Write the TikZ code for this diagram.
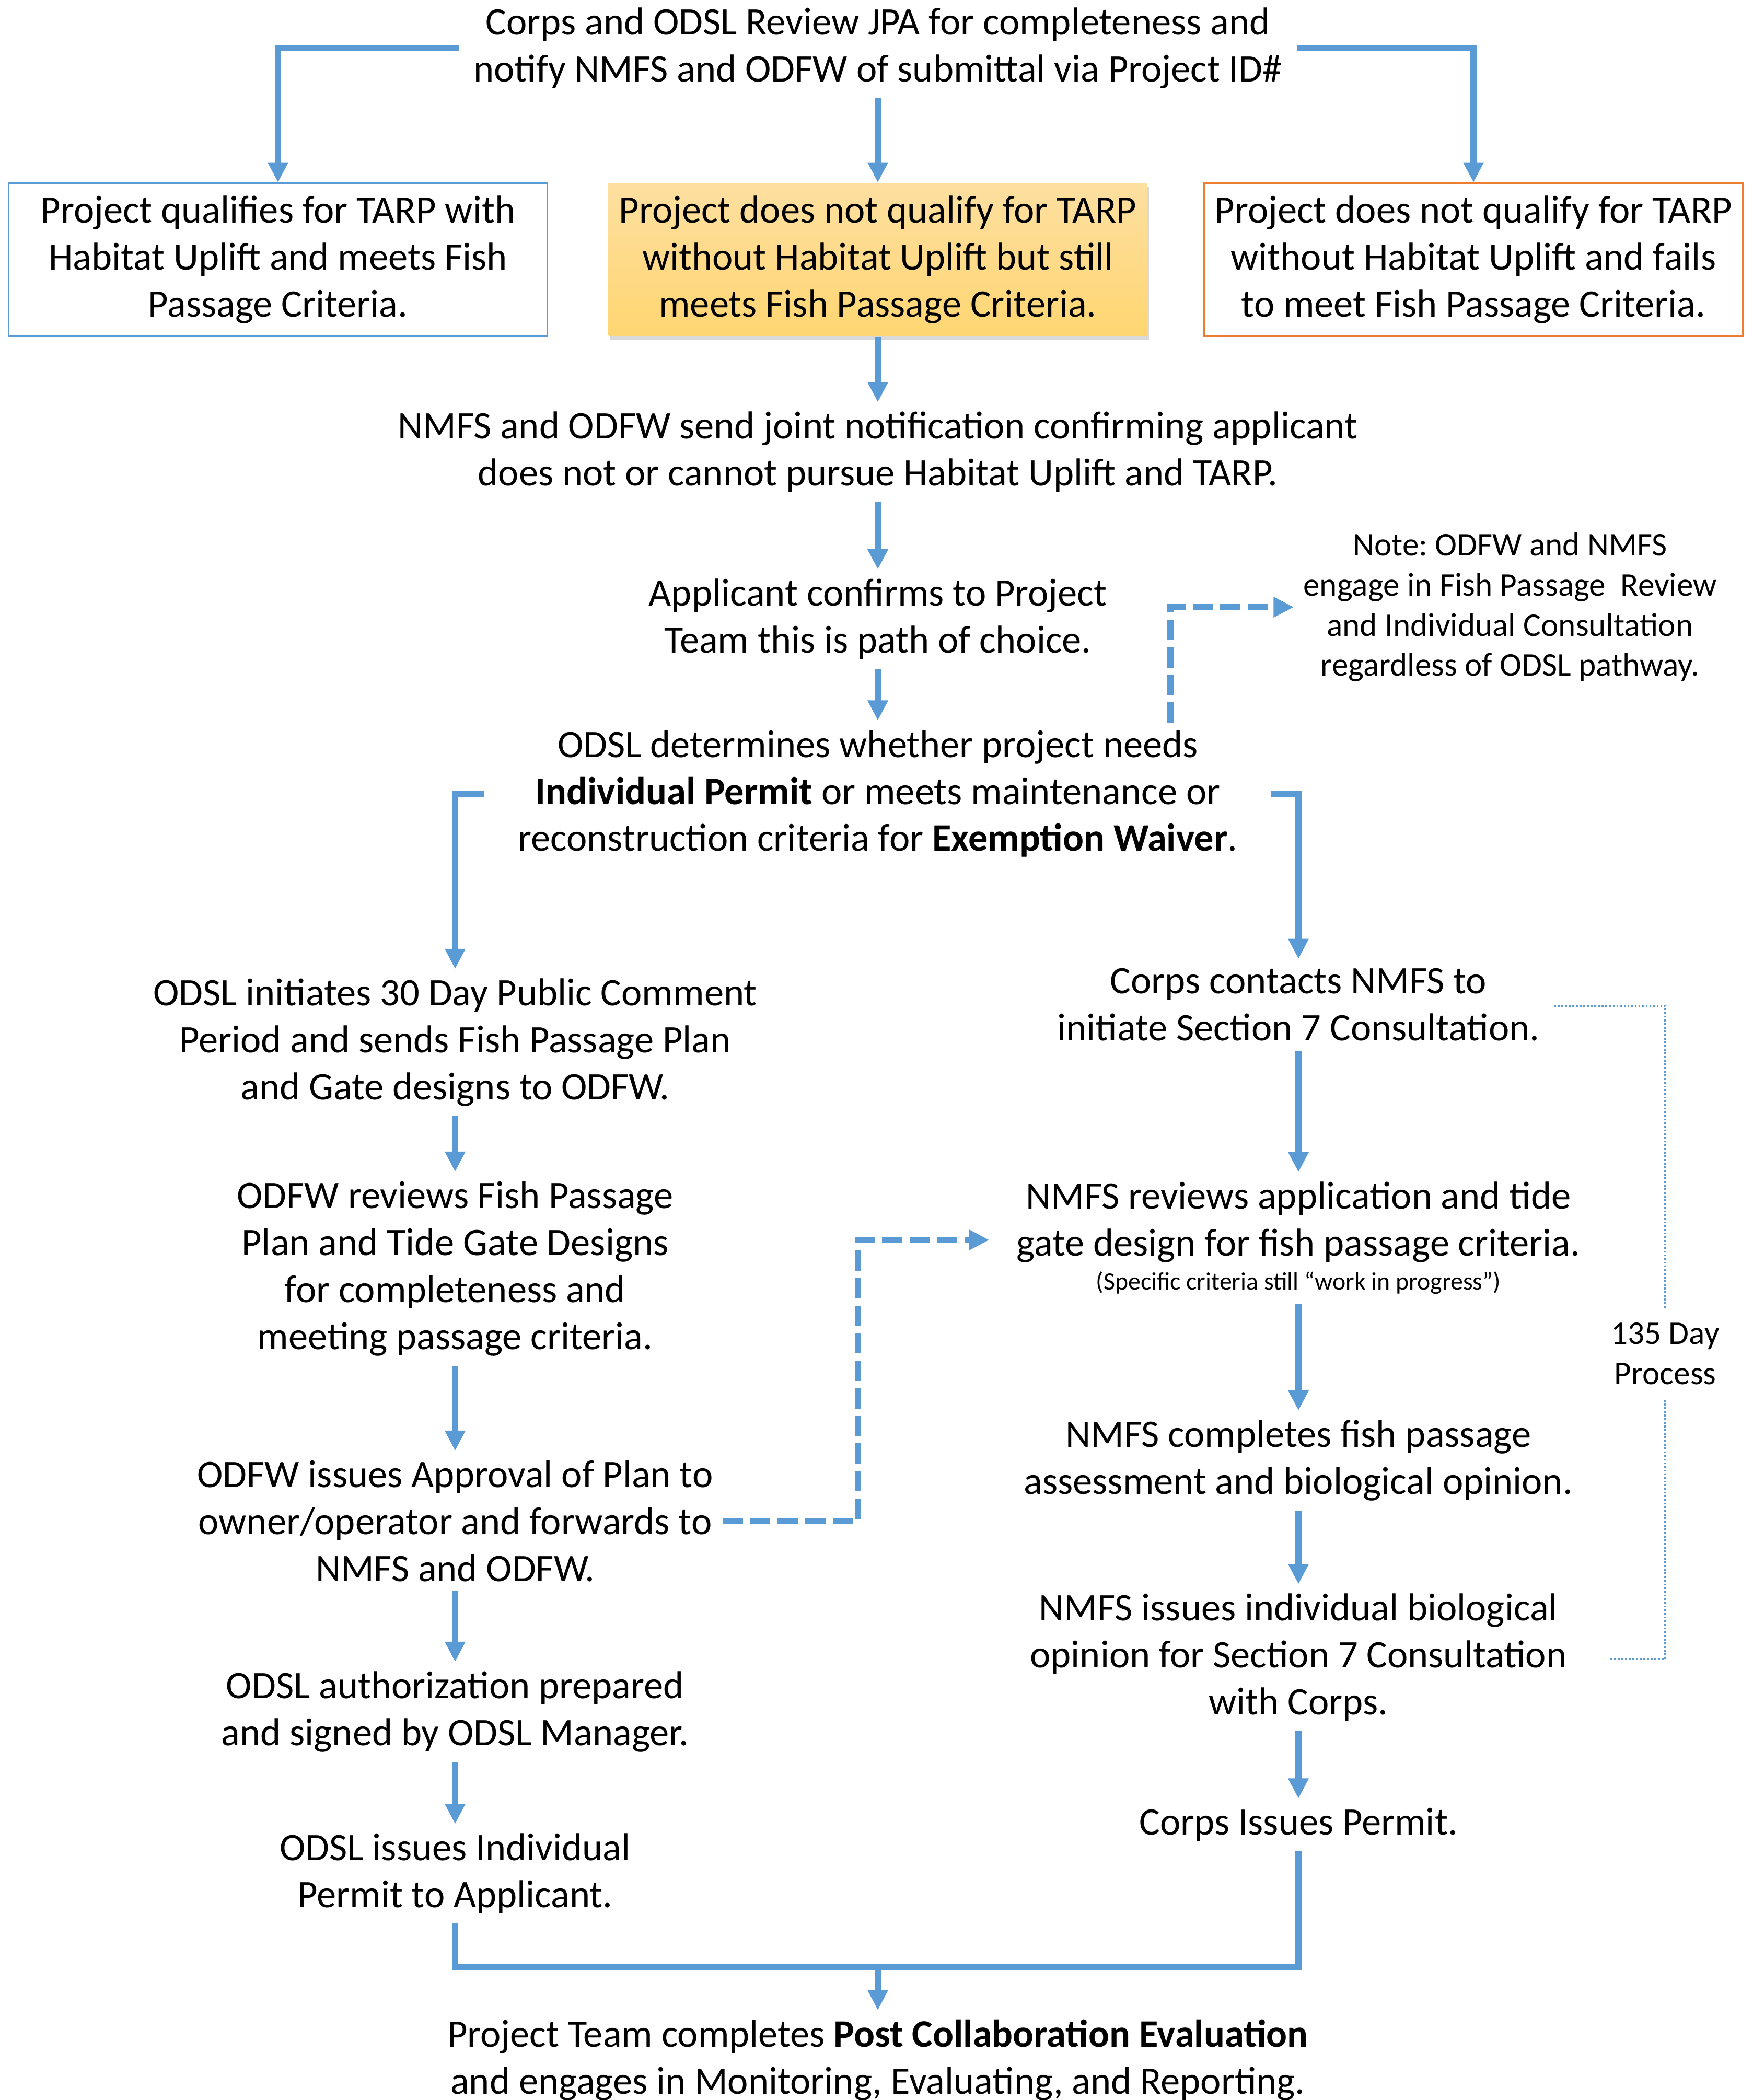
\documentclass[tikz,border=0pt]{standalone}
\usepackage{fontspec}
\setmainfont{Carlito}
\usepackage{xcolor}
\usetikzlibrary{arrows.meta}
\usetikzlibrary{shadows}
\definecolor{flowblue}{RGB}{91,155,213}
\definecolor{failorange}{RGB}{237,125,49}
\definecolor{goldtop}{RGB}{254,223,160}
\definecolor{goldbot}{RGB}{255,214,114}
\frenchspacing

\begin{document}
\begin{tikzpicture}[x=1cm, y=1cm] % 1cm = 100px der Vorlage
\tikzstyle{every node} = [inner sep=5pt, align=center, font=\fontsize{21.2}{25.6}\selectfont]
\tikzstyle{flowline} = [draw=flowblue, line width=3.4pt]
\tikzstyle{flow} = [flowline, -{Triangle[length=11pt,width=10.5pt]}]
\tikzstyle{dashflow} = [flow, dash pattern=on 11pt off 4pt]
\tikzstyle{bracket} = [draw=flowblue, line width=0.9pt, dash pattern=on 1pt off 1pt]
\tikzstyle{choice} = [line width=1pt, minimum width=10.31cm, minimum height=2.92cm]
\tikzstyle{notetext} = [font=\fontsize{18}{21.9}\selectfont]
\useasboundingbox (0,0) rectangle (33.54,-40.19);
\node (top) at (16.80,-0.92) {Corps and ODSL Review JPA for completeness and\\notify NMFS and ODFW of submittal via Project ID\#};
\node[choice, draw=flowblue] (qual) at (5.32,-4.97) {Project qualifies for TARP with\\Habitat Uplift and meets Fish\\Passage Criteria.};
\node[choice, top color=goldtop, bottom color=goldbot, drop shadow={shadow xshift=0.03cm, shadow yshift=-0.07cm, opacity=0.3}] (noqual) at (16.80,-4.97) {Project does not qualify for TARP\\without Habitat Uplift but still\\meets Fish Passage Criteria.};
\node[choice, draw=failorange] (fail) at (28.20,-4.97) {Project does not qualify for TARP\\without Habitat Uplift and fails\\to meet Fish Passage Criteria.};
\node (notify) at (16.80,-8.65) {NMFS and ODFW send joint notification confirming applicant\\does not or cannot pursue Habitat Uplift and TARP.};
\node (appl) at (16.80,-11.85) {Applicant confirms to Project\\Team this is path of choice.};
\node (det) at (16.80,-15.19) {ODSL determines whether project needs\\\textbf{Individual Permit} or meets maintenance or\\reconstruction criteria for \textbf{Exemption Waiver}.};
\node[notetext] (note) at (28.90,-11.62) {Note: ODFW and NMFS\\engage in Fish Passage~ Review\\and Individual Consultation\\regardless of ODSL pathway.};
% linke Spalte
\node (left1) at (8.71,-19.95) {ODSL initiates 30 Day Public Comment\\Period and sends Fish Passage Plan\\and Gate designs to ODFW.};
\node (left2) at (8.71,-24.28) {ODFW reviews Fish Passage\\Plan and Tide Gate Designs\\for completeness and\\meeting passage criteria.};
\node (left3) at (8.71,-29.11) {ODFW issues Approval of Plan to\\owner/operator and forwards to\\NMFS and ODFW.};
\node (left4) at (8.71,-32.76) {ODSL authorization prepared\\and signed by ODSL Manager.};
\node (left5) at (8.71,-35.86) {ODSL issues Individual\\Permit to Applicant.};
% rechte Spalte
\node (right1) at (24.85,-19.23) {Corps contacts NMFS to\\initiate Section 7 Consultation.};
\node (right2) at (24.85,-23.39) {NMFS reviews application and tide\\gate design for fish passage criteria.};
\node[font=\fontsize{13.6}{16}\selectfont] (crit) at (24.85,-24.55) {(Specific criteria still “work in progress”)};
\node (right3) at (24.85,-27.95) {NMFS completes fish passage\\assessment and biological opinion.};
\node (right4) at (24.85,-31.72) {NMFS issues individual biological\\opinion for Section 7 Consultation\\with Corps.};
\node (right5) at (24.85,-34.92) {Corps Issues Permit.};
\node[notetext, inner sep=8pt] (day) at (31.87,-25.91) {135 Day\\Process};
\node (final) at (16.80,-39.43) {Project Team completes \textbf{Post Collaboration Evaluation}\\and engages in Monitoring, Evaluating, and Reporting.};
\coordinate (dk) at (22.40,-13.83);
\coordinate (dj) at (16.42,-23.73);
\coordinate (mrg) at (16.80,-37.65);
\coordinate (bk1) at (29.74,-19.25);
\coordinate (bk2) at (30.79,-31.75);
\foreach \from/\to in {top/noqual, noqual/notify, notify/appl, appl/det, left1/left2, left2/left3, left3/left4, left4/left5, right1/right2, crit/right3, right3/right4, right4/right5}
\draw [flow] (\from.south) -- (\to.north);
\draw [flow, shorten <=0.1cm] (top.west) -| (qual.north);
\draw [flow, shorten <=0.1cm] (top.east) -| (fail.north);
\draw [flow, shorten <=0.46cm] (det.west) -| (left1.north);
\draw [flow, shorten <=0.45cm] (det.east) -| (right1.north);
\draw [dashflow] (dk) |- (note.west);
\draw [dashflow, shorten >=0.34cm] (left3.east) -| (dj) -- (right2.west |- dj);
\draw [flowline] (left5.south) |- (mrg) -| (right5.south);
\draw [flow] (mrg) -- (final.north);
\draw [bracket] (bk1) -| (day.north);
\draw [bracket] (day.south) |- (bk2);
\end{tikzpicture}
\end{document}
